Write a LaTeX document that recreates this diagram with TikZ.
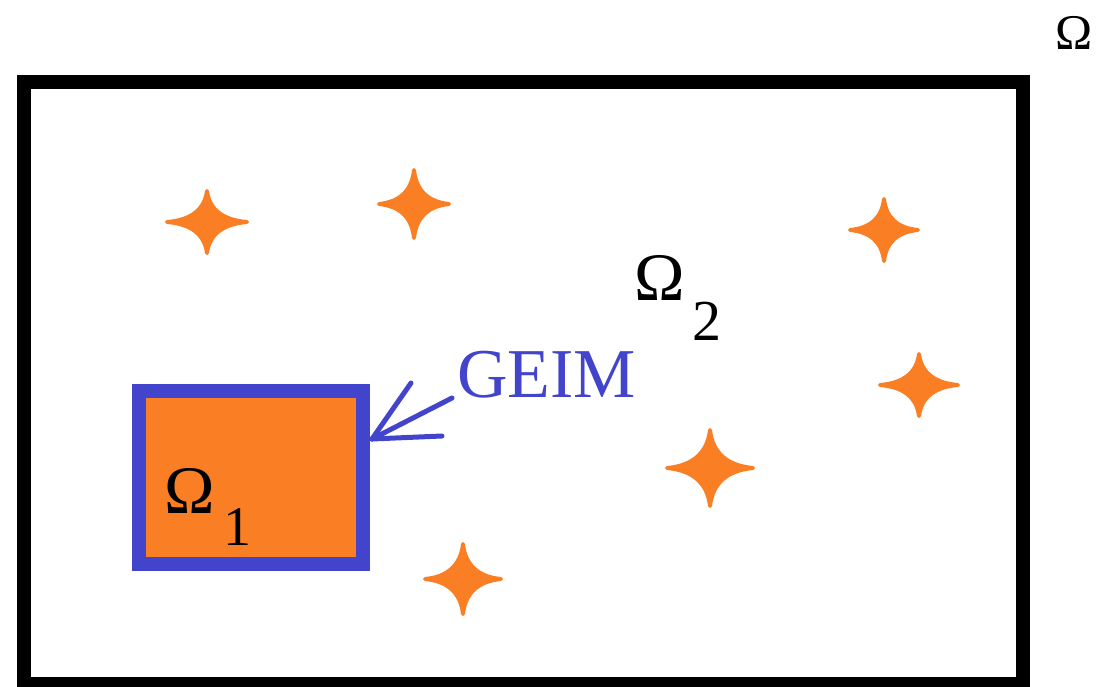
\documentclass[tikz,border=0pt]{standalone}
\usepackage{fontspec}
\setmainfont{Liberation Serif}
\definecolor{starorange}{RGB}{250,126,36}
\definecolor{geimblue}{RGB}{66,68,204}
\begin{document}
\begin{tikzpicture}[x=1pt,y=-1pt,
  lbl/.style={inner sep=0pt,anchor=base west},
  star/.style={fill=starorange,draw=starorange,line width=4pt,line join=round},
  ray/.style={draw=geimblue,line width=5pt,line cap=round}]
\useasboundingbox (0,0) rectangle (1099,687);
% outer domain
\draw[line width=14pt] (24,82) rectangle (1023,684);
\node[lbl,font=\fontsize{50}{50}\selectfont] (om) at (1055,50) {Ω};
% inner box
\draw[draw=geimblue,fill=starorange,line width=14pt] (139,391) rectangle (363,564);
\node[lbl,font=\fontsize{68}{68}\selectfont] (om1) at (164,513) {Ω};
\node[lbl,font=\fontsize{56}{56}\selectfont] (one) at (223,545) {1};
\node[lbl,font=\fontsize{68}{68}\selectfont] (om2) at (634,300) {Ω};
\node[lbl,font=\fontsize{58}{58}\selectfont] (two) at (692,340) {2};
\node[lbl,font=\fontsize{70}{70}\selectfont,text=geimblue] (geim) at (457,397) {GEIM};
% arrow rays
\coordinate (tip) at (372,439);
\coordinate (r1) at (411,383);
\coordinate (r2) at (452,398);
\coordinate (r3) at (442,436);
\draw[ray] (tip) -- (r1);
\draw[ray] (tip) -- (r2);
\draw[ray] (tip) -- (r3);
% stars
\foreach \cx/\cy/\w/\h in {207/222/40/31, 414/204/35/34, 884/230/34/31, 919/385/39/31, 710/468/43/38, 463/579/38/35}{
  \path[star] (\cx+\w,\cy) .. controls (\cx+0.4*\w,\cy+0.06*\h) and (\cx+0.06*\w,\cy+0.4*\h) .. (\cx,\cy+\h)
    .. controls (\cx-0.06*\w,\cy+0.4*\h) and (\cx-0.4*\w,\cy+0.06*\h) .. (\cx-\w,\cy)
    .. controls (\cx-0.4*\w,\cy-0.06*\h) and (\cx-0.06*\w,\cy-0.4*\h) .. (\cx,\cy-\h)
    .. controls (\cx+0.06*\w,\cy-0.4*\h) and (\cx+0.4*\w,\cy-0.06*\h) .. cycle;
}
\end{tikzpicture}
\end{document}
